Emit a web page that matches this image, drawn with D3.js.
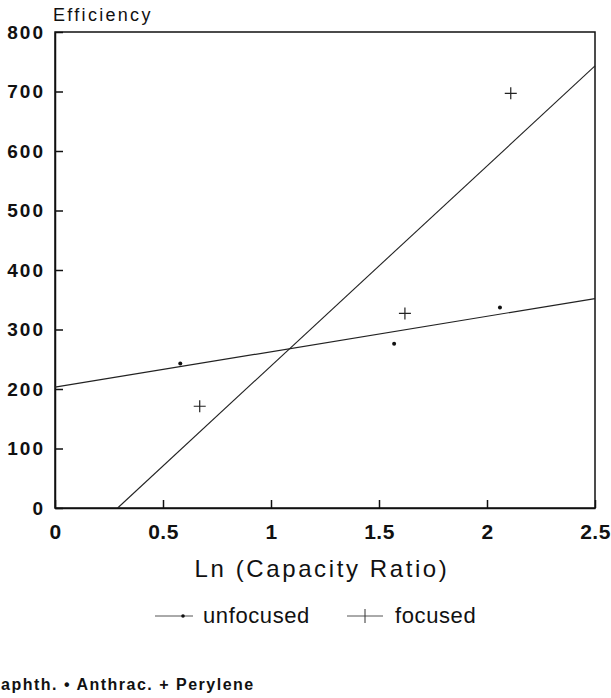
<!DOCTYPE html>
<html>
<head>
<meta charset="utf-8">
<script src="https://cdn.jsdelivr.net/npm/d3@7"></script>
<style>
  body { margin: 0; background: #fff; }
  text { font-family: "Liberation Sans", Arial, sans-serif; fill: #111; }
</style>
</head>
<body>
<svg id="chart" width="611" height="698"></svg>
<script>
// values
var unfocusedX = [0.58, 1.57, 2.06];
var unfocusedY = [243, 276, 337];
var focusedX = [0.67, 1.62, 2.11];
var focusedY = [171, 327, 697];

// fitted lines, end points
var unfocusedFitX = [0, 2.5];
var unfocusedFitY = [203, 352];
var focusedFitX = [0.29, 2.5];
var focusedFitY = [0, 743];

var xTicks = [0, 0.5, 1, 1.5, 2, 2.5];
var yTicks = [0, 100, 200, 300, 400, 500, 600, 700, 800];

var legendLabels = ["unfocused", "focused"];
// the scan cuts the first letter of this line
var footnote = "aphth. \u2022 Anthrac. + Perylene";

var svg = d3.select("#chart");

var x = d3.scaleLinear().domain([0, 2.5]).range([55, 595]);
var y = d3.scaleLinear().domain([0, 800]).range([508, 32]);

var pairs = function(xs, ys) { return xs.map(function(v, i) { return [v, ys[i]]; }); };

// axes, ticks point inward
var yAxis = d3.axisLeft(y).tickValues(yTicks).tickSizeInner(-8).tickSizeOuter(0).tickPadding(10)
    .tickFormat(d3.format("d"));
var xAxis = d3.axisBottom(x).tickValues(xTicks).tickSizeInner(-8).tickSizeOuter(0).tickPadding(16)
    .tickFormat(function(d) { return String(d); });

var gy = svg.append("g").attr("transform", "translate(" + x(0) + ",0)").call(yAxis);
gy.selectAll("text")
    .style("font-size", "19px").style("font-weight", "bold").style("letter-spacing", "2px");

var gx = svg.append("g").attr("transform", "translate(0," + y(0) + ")").call(xAxis);
gx.selectAll("text")
    .style("font-size", "21px").style("font-weight", "bold").style("letter-spacing", "0.5px");

svg.selectAll(".domain, .tick line").attr("stroke", "#111").attr("stroke-width", 1.5);

// frame: top and right side
svg.append("rect")
    .attr("x", x(0)).attr("y", y(800))
    .attr("width", x(2.5) - x(0)).attr("height", y(0) - y(800))
    .attr("fill", "none").attr("stroke", "#111").attr("stroke-width", 1.5);

// fit lines
var line = d3.line().x(function(d) { return x(d[0]); }).y(function(d) { return y(d[1]); });
svg.append("path").datum(pairs(unfocusedFitX, unfocusedFitY))
    .attr("d", line).attr("fill", "none").attr("stroke", "#222").attr("stroke-width", 1.2);
svg.append("path").datum(pairs(focusedFitX, focusedFitY))
    .attr("d", line).attr("fill", "none").attr("stroke", "#222").attr("stroke-width", 1.1);

// points
svg.selectAll("circle.unf")
    .data(pairs(unfocusedX, unfocusedY))
    .enter().append("circle")
    .attr("class", "unf")
    .attr("cx", function(d) { return x(d[0]); })
    .attr("cy", function(d) { return y(d[1]); })
    .attr("r", 2).attr("fill", "#111");

svg.selectAll("path.foc")
    .data(pairs(focusedX, focusedY))
    .enter().append("path")
    .attr("class", "foc")
    .attr("d", "M-6,0H6M0,-6V6")
    .attr("transform", function(d) { return "translate(" + x(d[0]) + "," + y(d[1]) + ")"; })
    .attr("stroke", "#222").attr("stroke-width", 1.2);

// titles
svg.append("text").attr("x", 53).attr("y", 21)
    .style("font-size", "18px").style("letter-spacing", "2.3px")
    .text("Efficiency");

svg.append("text").attr("x", 322).attr("y", 577).attr("text-anchor", "middle")
    .style("font-size", "24px").style("letter-spacing", "2.6px")
    .text("Ln (Capacity Ratio)");

// legend
var lg = svg.append("g");
lg.append("line").attr("x1", 155).attr("x2", 193).attr("y1", 616).attr("y2", 616)
    .attr("stroke", "#555").attr("stroke-width", 1);
lg.append("circle").attr("cx", 183).attr("cy", 616).attr("r", 1.8).attr("fill", "#111");
lg.append("line").attr("x1", 347).attr("x2", 383).attr("y1", 616).attr("y2", 616)
    .attr("stroke", "#555").attr("stroke-width", 1);
lg.append("path").attr("d", "M365,609V623").attr("stroke", "#333").attr("stroke-width", 1);
lg.selectAll("text").data(legendLabels).enter().append("text")
    .attr("x", function(d, i) { return i ? 395 : 203; })
    .attr("y", 623)
    .style("font-size", "22px").style("letter-spacing", "0.6px")
    .text(function(d) { return d; });

svg.append("text").attr("x", 1).attr("y", 690)
    .style("font-size", "16px").style("font-weight", "bold").style("letter-spacing", "1.5px")
    .text(footnote);
</script>
</body>
</html>
